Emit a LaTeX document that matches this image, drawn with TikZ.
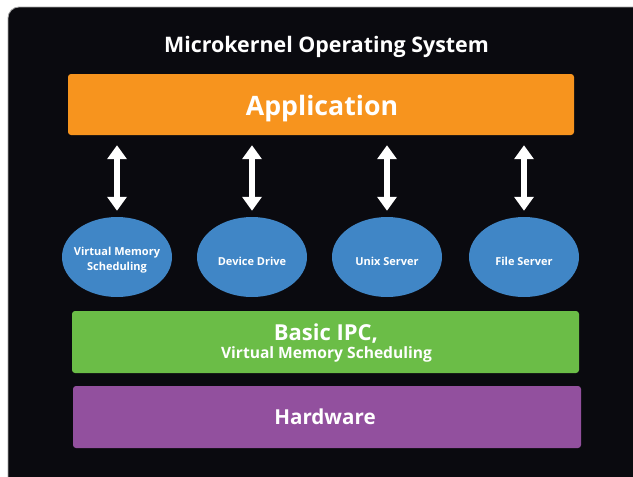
\documentclass[tikz,border=0pt]{standalone}
\usepackage{fontspec}
\setmainfont{Open Sans}
\usetikzlibrary{shapes.geometric,arrows.meta}
\definecolor{panel}{HTML}{0A0A0F}
\definecolor{apporange}{HTML}{F7941E}
\definecolor{ipcgreen}{HTML}{6BBD47}
\definecolor{hwpurple}{HTML}{92509E}
\definecolor{srvblue}{HTML}{4086C6}
\tikzset{
  layer/.style={rounded corners=3pt, inner sep=0pt},
  caption/.style={anchor=base, inner sep=0pt, text=white},
  server/.style={ellipse, fill=srvblue, minimum width=110pt, minimum height=80pt, inner sep=0pt},
  srvtext/.style={inner sep=0pt, text=white, align=center,
    font=\bfseries\fontsize{11}{15}\selectfont},
  dblarrow/.style={draw=white, line width=6pt,
    {Triangle[width=19pt,length=14pt]}-{Triangle[width=19pt,length=14pt]},
    shorten <=10pt, shorten >=6pt}
}
\begin{document}
\begin{tikzpicture}[x=1pt,y=-1pt]
\useasboundingbox (0,0) rectangle (633,477);
% dark panel behind everything
\fill[white] (0,0) rectangle (633,477);
\draw[fill=panel, draw=gray!70, line width=0.8pt, rounded corners=11pt] (8,7) rectangle (660,500);

\node[caption, font=\bfseries\fontsize{21.4}{24}\selectfont] (title) at (326.5,52) {Microkernel Operating System};

% layers
\node[layer, fill=apporange, minimum width=506pt, minimum height=61pt] (app) at (321,104.5) {};
\node[caption, font=\bfseries\fontsize{26.7}{30}\selectfont] (applabel) at (322,115) {Application};

\node[layer, fill=ipcgreen, minimum width=507pt, minimum height=62pt] (ipc) at (325.5,342) {};
\node[caption, font=\bfseries\fontsize{22}{24}\selectfont] (ipclabel) at (326,340) {Basic IPC,};
\node[caption, font=\bfseries\fontsize{15.6}{18}\selectfont] (ipcsub) at (326.5,358.5) {Virtual Memory Scheduling};

\node[layer, fill=hwpurple, minimum width=508pt, minimum height=62pt] (hw) at (327,417) {};
\node[caption, font=\bfseries\fontsize{20.6}{24}\selectfont] (hwlabel) at (325,424) {Hardware};

% servers running in user space
\node[server] (vm) at (117,257) {};
\node[server] (dev) at (252,257) {};
\node[server] (unix) at (387,257) {};
\node[server] (fs) at (524,257) {};
\node[srvtext] (vmlabel) at ([yshift=-3.5pt]vm.center) {Virtual Memory\\Scheduling};
\node[srvtext] (devlabel) at ([yshift=-4pt]dev.center) {Device Drive};
\node[srvtext] (unixlabel) at ([yshift=-4pt]unix.center) {Unix Server};
\node[srvtext] (fslabel) at ([yshift=-4pt]fs.center) {File Server};

% message passing between application and servers
\foreach \s in {vm,dev,unix,fs}
  \draw[dblarrow] (app.south -| \s.north) -- (\s.north);
\end{tikzpicture}
\end{document}
